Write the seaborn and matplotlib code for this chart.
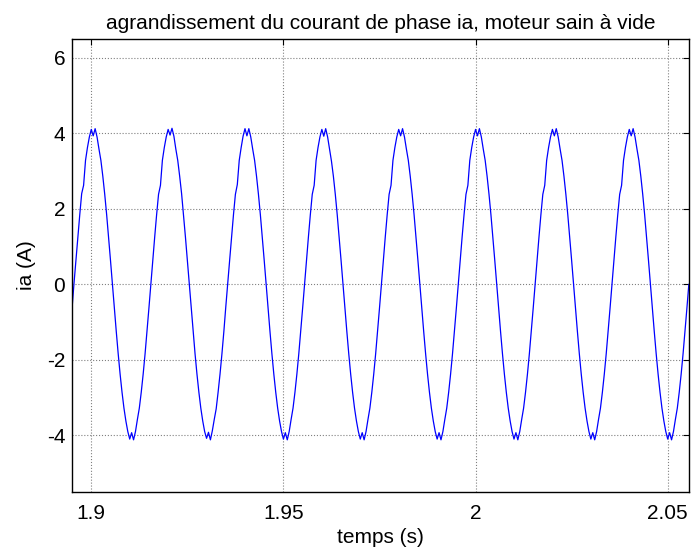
import numpy as np
import pandas as pd
import matplotlib
matplotlib.use("Agg")
import matplotlib.pyplot as plt
import seaborn as sns

# sample times: 0.5 ms sampling from 1.895 s
t_start = 1.895
t_step = 0.0005

# current ia (A), sample by sample
ia = [
    -0.63, 0.02, 0.63, 1.22, 1.84, 2.40, 2.62, 3.28, 3.62, 3.90, 4.10,
    # period 1
    3.93, 4.12, 3.90, 3.58, 3.28, 2.86, 2.38, 1.84, 1.25, 0.63,
    0.00, -0.63, -1.25, -1.84, -2.38, -2.86, -3.28, -3.62, -3.90, -4.10,
    -3.93, -4.12, -3.90, -3.58, -3.28, -2.86, -2.38, -1.84, -1.25, -0.63,
    0.00, 0.63, 1.25, 1.84, 2.38, 2.62, 3.28, 3.62, 3.90, 4.10,
    # period 2
    3.95, 4.13, 3.92, 3.58, 3.28, 2.86, 2.40, 1.84, 1.25, 0.63,
    0.02, -0.63, -1.22, -1.84, -2.38, -2.86, -3.28, -3.62, -3.90, -4.08,
    -3.92, -4.12, -3.88, -3.58, -3.30, -2.86, -2.38, -1.84, -1.25, -0.60,
    0.00, 0.63, 1.25, 1.84, 2.38, 2.64, 3.28, 3.62, 3.92, 4.12,
    # period 3
    3.93, 4.12, 3.90, 3.58, 3.28, 2.86, 2.38, 1.84, 1.25, 0.63,
    0.00, -0.63, -1.25, -1.84, -2.38, -2.86, -3.28, -3.62, -3.90, -4.10,
    -3.93, -4.12, -3.90, -3.58, -3.28, -2.86, -2.38, -1.84, -1.25, -0.63,
    0.00, 0.63, 1.25, 1.84, 2.38, 2.62, 3.28, 3.62, 3.90, 4.10,
    # period 4
    3.92, 4.12, 3.90, 3.58, 3.26, 2.86, 2.38, 1.84, 1.25, 0.63,
    0.00, -0.63, -1.25, -1.84, -2.38, -2.86, -3.28, -3.62, -3.90, -4.10,
    -3.93, -4.12, -3.90, -3.58, -3.28, -2.86, -2.38, -1.84, -1.25, -0.63,
    0.00, 0.63, 1.25, 1.84, 2.38, 2.62, 3.28, 3.62, 3.90, 4.10,
    # period 5
    3.93, 4.12, 3.90, 3.58, 3.28, 2.86, 2.38, 1.84, 1.25, 0.63,
    0.00, -0.63, -1.25, -1.84, -2.38, -2.86, -3.28, -3.62, -3.90, -4.10,
    -3.93, -4.12, -3.90, -3.58, -3.28, -2.86, -2.38, -1.84, -1.25, -0.63,
    0.00, 0.63, 1.25, 1.84, 2.38, 2.62, 3.28, 3.62, 3.90, 4.10,
    # period 6
    3.93, 4.12, 3.90, 3.58, 3.28, 2.86, 2.38, 1.84, 1.25, 0.63,
    0.00, -0.63, -1.25, -1.84, -2.38, -2.86, -3.28, -3.62, -3.90, -4.10,
    -3.93, -4.12, -3.90, -3.58, -3.28, -2.86, -2.38, -1.84, -1.25, -0.63,
    0.00, 0.63, 1.25, 1.84, 2.38, 2.62, 3.28, 3.62, 3.90, 4.10,
    # period 7
    3.93, 4.12, 3.90, 3.58, 3.28, 2.86, 2.38, 1.84, 1.25, 0.63,
    0.00, -0.63, -1.25, -1.84, -2.38, -2.86, -3.28, -3.62, -3.90, -4.10,
    -3.93, -4.12, -3.90, -3.58, -3.28, -2.86, -2.38, -1.84, -1.25, -0.63,
    0.00, 0.63, 1.25, 1.84, 2.38, 2.62, 3.28, 3.62, 3.90, 4.10,
    # partial period 8
    3.93, 4.12, 3.90, 3.58, 3.28, 2.86, 2.38, 1.84, 1.25, 0.63,
    0.00, -0.63, -1.25, -1.84, -2.38, -2.86, -3.28, -3.62, -3.90, -4.10,
    -3.93, -4.12, -3.90, -3.58, -3.28, -2.86, -2.38, -1.84, -1.25, -0.63,
    0.00,
]

temps = t_start + t_step * np.arange(len(ia))

x_ticks = [1.9, 1.95, 2.0, 2.05]
x_tick_labels = ["1.9", "1.95", "2", "2.05"]
y_ticks = [-4, -2, 0, 2, 4, 6]
y_tick_labels = ["-4", "-2", "0", "2", "4", "6"]

title = "agrandissement du courant de phase ia, moteur sain à vide"
xlabel = "temps (s)"
ylabel = "ia (A)"

df = pd.DataFrame({"temps": temps, "ia": ia})

sns.set_style("white")
plt.rcParams["font.family"] = ["Liberation Sans", "DejaVu Sans"]
plt.rcParams["axes.unicode_minus"] = False

FS = 15

fig = plt.figure(figsize=(6.93, 5.54), dpi=100)
ax = fig.add_axes([0.104, 0.112, 0.890, 0.818])

sns.lineplot(data=df, x="temps", y="ia", ax=ax, color="#0000ff",
             linewidth=0.9, estimator=None, sort=False)

ax.set_xlim(1.895, 2.0555)
ax.set_ylim(-5.5, 6.5)
ax.set_xticks(x_ticks)
ax.set_xticklabels(x_tick_labels)
ax.set_yticks(y_ticks)
ax.set_yticklabels(y_tick_labels)
ax.grid(True, linestyle=":", color="#808080", linewidth=0.8)
ax.set_axisbelow(True)
for s in ax.spines.values():
    s.set_visible(True)
    s.set_color("black")
    s.set_linewidth(1.0)
ax.tick_params(direction="in", length=4, width=0.8, top=True, right=True,
               labelsize=FS, colors="black")
ax.tick_params(axis="x", pad=9)
ax.tick_params(axis="y", pad=5)
ax.set_title(title, fontsize=FS, pad=7, color="black")
ax.set_xlabel(xlabel, fontsize=FS, labelpad=3, color="black")
ax.set_ylabel(ylabel, fontsize=FS, labelpad=8, color="black")

fig.savefig("out.png", dpi=100)
